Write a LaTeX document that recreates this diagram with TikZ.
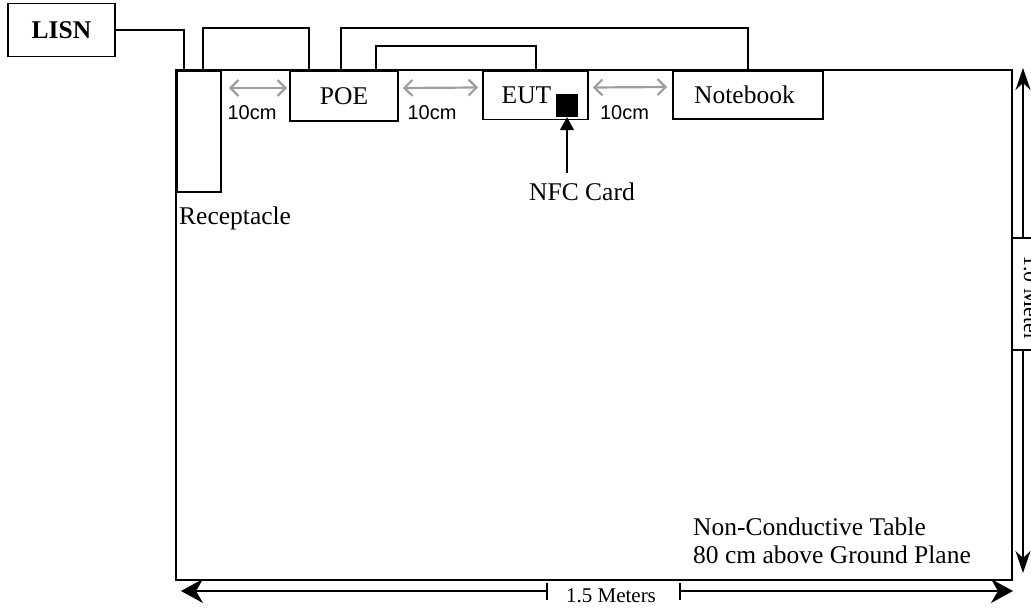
\documentclass[tikz,border=0pt]{standalone}
\usepackage{fontspec}
\setmainfont{Liberation Serif}
\newfontfamily\arialf{Liberation Sans}
\usetikzlibrary{arrows.meta,calc}
\tikzset{
  wire/.style={line width=1.6pt},
  boxn/.style={draw,line width=1.8pt,fill=white,inner sep=0pt,font=\fontsize{25.5}{28}\selectfont},
  garrow/.style={draw=black!38,line width=2.2pt,{Straight Barb[length=8pt,width=16pt]}-{Straight Barb[length=8pt,width=16pt]}},
  cmlab/.style={font=\arialf\fontsize{20}{22}\selectfont,inner sep=0pt},
  txt/.style={font=\fontsize{25.5}{28}\selectfont,inner sep=0pt},
  htip/.tip={Stealth[length=22pt,width=24pt,inset=7pt]},
  vtip/.tip={Stealth[length=22pt,width=15pt,inset=7pt]},
}
\begin{document}
\begin{tikzpicture}[x=1pt,y=-1pt]
\useasboundingbox (0,0) rectangle (1031,609);
% table
\node[draw,line width=2.2pt,minimum width=836pt,minimum height=510pt,inner sep=0pt] (table) at (594,325) {};
% boxes
\node[boxn,minimum width=107pt,minimum height=53pt,font=\bfseries\fontsize{25.5}{28}\selectfont] (lisn) at (61.5,30) {LISN};
\node[boxn,minimum width=44pt,minimum height=121pt] (rec) at (199,131.5) {};
\node[boxn,minimum width=108pt,minimum height=50pt] (poe) at (344,96) {POE};
\node[boxn,minimum width=105pt,minimum height=48pt] (eut) at (535.5,95.5) {EUT\makebox[18pt]{}};
\node[boxn,minimum width=150pt,minimum height=48pt] (nb) at (748,95) {Notebook\makebox[7pt]{}};
\node[fill=black,minimum width=22pt,minimum height=23pt,inner sep=0pt] (card) at (567,105.5) {};
% wires
\draw[wire] (lisn.east) -| ([xshift=8pt]rec.north west);
\draw[wire] ([xshift=27pt]rec.north west) -- ++(0,-42) -| ([xshift=20pt]poe.north west);
\draw[wire] ([xshift=52pt]poe.north west) -- ++(0,-42) -| (nb.north);
\draw[wire] ([xshift=87pt]poe.north west) -- ++(0,-24) -| ([xshift=54pt]eut.north west);
% gray spacing arrows
\draw[garrow] ($(rec.east |- poe.west)+(7,-8)$) -- ($(poe.west)+(-2,-8)$);
\draw[garrow] ($(poe.east)+(4,-8)$) -- ($(eut.west)+(-4,-8)$);
\draw[garrow] ($(eut.east)+(4,-8)$) -- ($(nb.west)+(-5,-8)$);
\node[cmlab] (c1) at (252,113) {10cm};
\node[cmlab] (c2) at (432,113) {10cm};
\node[cmlab] (c3) at (624.5,113) {10cm};
% NFC
\node[txt] (nfc) at (582,191.5) {NFC Card};
\coordinate (nfcbase) at (567,173);
\draw[line width=1.6pt,-{Triangle[length=13pt,width=14pt]}] (nfcbase) -- (card.south);
% labels
\node[txt,anchor=base west] (reclab) at (179,225) {Receptacle};
\node[txt,anchor=base west] (tab1) at (693,535) {Non-Conductive Table};
\node[txt,anchor=base west] (tab2) at (693,563) {80 cm above Ground Plane};
% horizontal dimension
\coordinate (hl) at (181,591);
\coordinate (hr) at (1013,591);
\coordinate (hlt) at (547,591);
\coordinate (hrt) at (680,591);
\draw[line width=1.6pt,htip-] (hl) -- (hlt);
\draw[line width=1.6pt,-htip] (hrt) -- (hr);
\draw[line width=1.4pt] ($(hlt)+(0,-8)$) -- ($(hlt)+(0,9)$);
\draw[line width=1.4pt] ($(hrt)+(0,-8)$) -- ($(hrt)+(0,9)$);
\node[font=\fontsize{21}{24}\selectfont,inner sep=0pt,anchor=base] (hlab) at (611,602) {1.5 Meters};
% vertical dimension
\coordinate (vt) at (1023,68);
\coordinate (vb) at (1023,573);
\coordinate (vtt) at (1023,238);
\coordinate (vbt) at (1023,350);
\draw[line width=1.6pt,-vtip] (vtt) -- (vt);
\draw[line width=1.6pt,-vtip] (vbt) -- (vb);
\draw[line width=1.4pt] (vtt -| table.east) -- ++(22,0);
\draw[line width=1.4pt] (vbt -| table.east) -- ++(22,0);
\node[font=\fontsize{22}{24}\selectfont,inner sep=0pt,anchor=base,rotate=-90] (vlab) at (1024,298) {1.0 Meter};
\end{tikzpicture}
\end{document}
